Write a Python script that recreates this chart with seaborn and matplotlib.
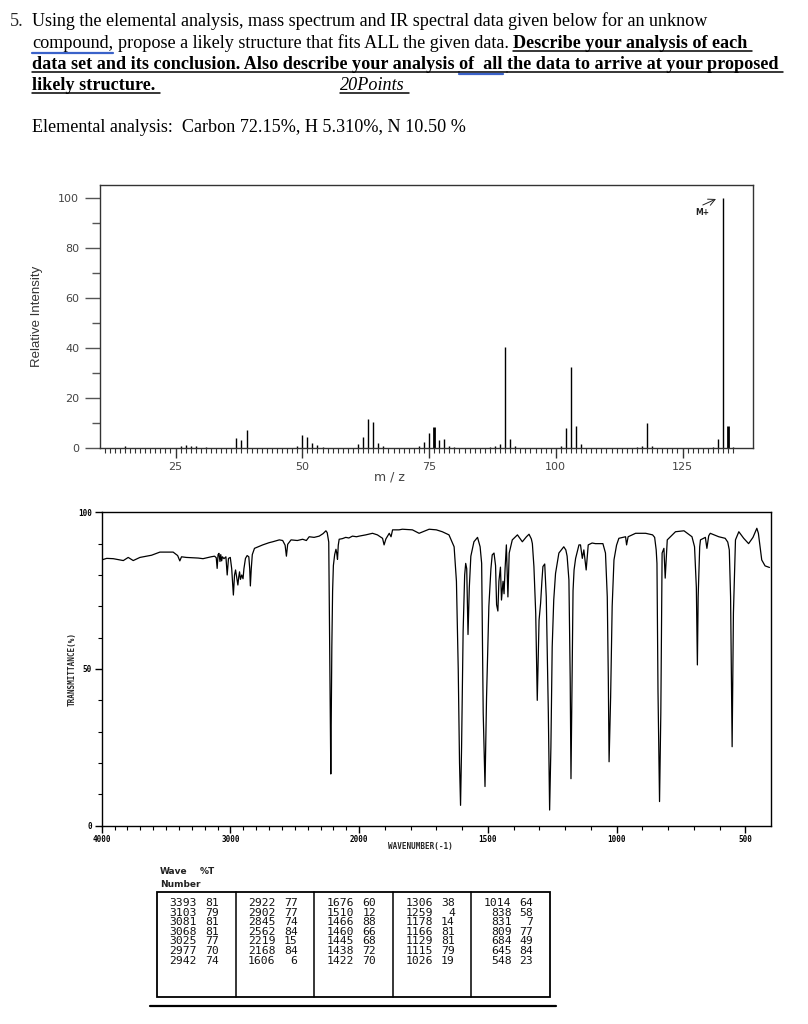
import numpy as np
import matplotlib
matplotlib.use('Agg')
import matplotlib.pyplot as plt
import seaborn as sns

# mass spectrum (m/z, relative intensity)
ms_mz = [15, 26, 27, 28, 29, 31, 37, 38, 39, 49, 50, 51, 52, 53, 54,
         61, 62, 63, 64, 65, 66, 73, 74, 75, 76, 77, 78, 79, 80,
         87, 88, 89, 90, 91, 92, 101, 102, 103, 104, 105,
         116, 117, 118, 119, 131, 132, 133, 134, 135]
ms_int = [1.0, 1.0, 1.2, 1.0, 0.8, 0.6, 4.0, 3.2, 7.3, 1.0, 5.1, 4.3, 2.0, 1.3, 0.6,
          1.6, 4.3, 11.7, 10.3, 2.0, 0.7, 0.7, 2.3, 6.0, 8.4, 3.1, 3.7, 0.9, 0.5,
          0.6, 0.8, 1.5, 40.3, 3.6, 0.8, 0.8, 8.2, 32.3, 8.8, 1.6,
          0.6, 1.0, 9.9, 1.0, 0.5, 3.6, 100.0, 8.9, 0.6]
ms_bold = [76, 134]

# IR spectrum (wavenumber, %T)
ir_wn = [4000, 3961, 3910, 3832, 3794, 3755, 3703, 3613, 3548, 3445, 3410, 3393, 3380,
         3342, 3250, 3213, 3150, 3123, 3110, 3103, 3096, 3089, 3081, 3075, 3068, 3062,
         3050, 3035, 3025, 3015, 3001, 2990, 2977, 2968, 2960, 2950, 2942, 2935, 2929,
         2922, 2912, 2902, 2895, 2883, 2870, 2857, 2850, 2845, 2838, 2830, 2813, 2749,
         2700, 2671, 2620, 2594, 2575, 2565, 2555, 2529, 2480, 2439, 2410, 2388, 2350,
         2310, 2280, 2258, 2248, 2236, 2229, 2224, 2220, 2216, 2212, 2206, 2200, 2190,
         2180, 2174, 2168, 2162, 2155, 2130, 2104, 2080, 2052, 2020, 2000,
         1974, 1948, 1929, 1909, 1903, 1896, 1883, 1876, 1870, 1845, 1832, 1793, 1767,
         1728, 1700, 1677, 1651, 1631, 1622, 1615, 1610, 1606, 1602, 1596, 1590, 1586,
         1582, 1577, 1572, 1566, 1554, 1540, 1530, 1524, 1518, 1511, 1505, 1496, 1488,
         1483, 1476, 1470, 1466, 1461, 1457, 1451, 1447, 1441, 1437, 1433, 1428, 1422,
         1417, 1405, 1385, 1366, 1350, 1340, 1331, 1327, 1321, 1314, 1308, 1301, 1295,
         1290, 1286, 1279, 1273, 1265, 1260, 1255, 1250, 1244, 1237, 1224, 1205, 1197,
         1192, 1185, 1180, 1177, 1173, 1169, 1165, 1159, 1146, 1140, 1133, 1127, 1118,
         1110, 1095, 1082, 1053, 1043, 1036, 1032, 1029, 1023, 1017, 1010, 1000, 991,
         965, 961, 955, 926, 887, 860, 852, 846, 843, 839, 833, 828, 823, 816, 811, 803,
         771, 738, 707, 697, 690, 686, 683, 677, 674, 655, 649, 642, 636, 603, 578, 568,
         562, 557, 551, 546, 538, 525, 506, 487, 470, 455, 449, 436, 423, 406]
ir_t = [84.8, 85.3, 85.2, 84.6, 85.6, 84.6, 85.6, 86.3, 87.3, 87.3, 86.2, 84.5, 85.8,
        85.6, 85.4, 85.2, 85.8, 86.0, 85.5, 82.1, 86.5, 86.9, 84.3, 86.5, 84.5, 85.8,
        85.2, 85.8, 80.0, 85.3, 85.6, 82.0, 73.6, 80.0, 81.6, 79.0, 76.8, 79.5, 81.0,
        78.6, 80.0, 78.8, 82.0, 85.3, 86.2, 85.8, 82.0, 76.5, 82.0, 86.5, 88.5, 89.6,
        90.3, 90.6, 91.2, 91.0, 89.5, 86.0, 89.8, 91.2, 91.0, 91.4, 91.0, 92.2, 92.0,
        92.4, 93.2, 94.1, 93.5, 90.5, 60.0, 35.0, 16.5, 35.0, 57.0, 75.0, 83.0, 86.5,
        88.2, 87.0, 85.0, 89.5, 91.4, 91.6, 92.0, 91.8, 92.4, 92.2, 92.4,
        92.8, 93.3, 92.8, 91.7, 89.6, 91.5, 93.3, 92.2, 94.4, 94.4, 94.6, 94.4, 93.3,
        94.6, 94.4, 93.8, 92.8, 89.0, 78.0, 50.0, 20.0, 6.5, 25.0, 62.0, 80.0, 83.7,
        82.0, 61.0, 76.0, 86.0, 90.6, 92.0, 89.0, 83.7, 36.0, 12.5, 41.0, 70.0, 82.0,
        86.4, 87.0, 83.0, 70.5, 68.5, 78.0, 82.5, 72.0, 78.0, 74.0, 82.0, 89.6, 73.0,
        87.0, 91.2, 92.8, 90.6, 92.2, 93.0, 91.5, 90.0, 82.7, 67.8, 40.0, 65.6, 71.0,
        78.0, 82.7, 83.5, 73.0, 36.0, 5.0, 25.0, 57.0, 72.0, 80.5, 87.0, 89.0, 88.0,
        86.0, 78.4, 46.5, 15.0, 45.0, 75.0, 81.6, 85.3, 89.6, 89.6, 85.3, 88.0, 81.6,
        89.6, 90.2, 90.0, 90.0, 87.0, 73.0, 47.0, 20.4, 41.0, 70.0, 84.8, 89.5, 91.7,
        92.2, 89.6, 92.2, 93.3, 93.3, 92.8, 92.0, 88.0, 83.7, 43.0, 7.7, 36.0, 87.0, 88.5, 79.0, 91.2,
        93.8, 94.1, 92.2, 89.0, 76.0, 51.3, 73.0, 89.0, 91.2, 92.0, 88.5, 92.5, 93.3, 92.2, 91.7, 90.5,
        88.0, 73.0, 25.2, 67.8, 91.2, 93.8, 91.7, 90.0, 92.0, 94.9, 93.3, 84.8, 82.9, 82.4]

# peak table printed under the spectrum
tab_wn = ['3393', '3103', '3081', '3068', '3025', '2977', '2942',
          '2922', '2902', '2845', '2562', '2219', '2168', '1606',
          '1676', '1510', '1466', '1460', '1445', '1438', '1422',
          '1306', '1259', '1178', '1166', '1129', '1115', '1026',
          '1014', '838', '831', '809', '684', '645', '548']
tab_t = ['81', '79', '81', '81', '77', '70', '74',
         '77', '77', '74', '84', '15', '84', '6',
         '60', '12', '88', '66', '68', '72', '70',
         '38', '4', '14', '81', '81', '79', '19',
         '64', '58', '7', '77', '49', '84', '23']

sns.set_theme(style='white')
plt.rcParams['font.family'] = ['DejaVu Sans']

W, H = 808, 1024
fig = plt.figure(figsize=(W / 100, H / 100), dpi=100)

# page layer in pixel coordinates for the question text and the table
page = fig.add_axes([0, 0, 1, 1])
page.set_xlim(0, W)
page.set_ylim(H, 0)
page.axis('off')
renderer = fig.canvas.get_renderer()

SZ = 13.1
SP = 0.25 * SZ * 100 / 72


def write_line(x, y, segs):
    for txt, style in segs:
        kw = dict(fontsize=SZ, family='Liberation Serif', va='baseline', ha='left', color='black')
        if 'b' in style:
            kw['fontweight'] = 'bold'
        if 'i' in style:
            kw['fontstyle'] = 'italic'
        t = page.text(x, y, txt, **kw)
        w = t.get_window_extent(renderer).width
        if 'u' in style:
            page.plot([x, x + w + SP], [y + 2.5, y + 2.5], color='black', lw=1.1)
        if 'w' in style:
            page.plot([x, x + w], [y + 4.5, y + 4.5], color='#3a62c9', lw=1.6)
        x += w + SP


page.text(10, 26, '5.', fontsize=SZ, family='Liberation Serif', va='baseline')
write_line(32, 26, [('Using the elemental analysis, mass spectrum and IR spectral data given below for an unknow', '')])
write_line(32, 48, [('compound,', 'w'),
                    ('propose a likely structure that fits ALL the given data.', ''),
                    ('Describe your analysis of each', 'bu')])
write_line(32, 69, [('data set and its conclusion. Also describe your analysis', 'bu'),
                    ('of  all', 'buw'),
                    ('the data to arrive at your proposed', 'bu')])
write_line(32, 90, [('likely structure.', 'bu')])
write_line(340, 90, [('20Points', 'iu')])
write_line(32, 132, [('Elemental analysis:  Carbon 72.15%, H 5.310%, N 10.50 %', '')])

# ---------------- mass spectrum ----------------
ax1 = fig.add_axes([100 / W, 1 - 448 / H, 653 / W, 263 / H])
ax1.set_facecolor('white')
lws = [2.0 if m in ms_bold else 1.0 for m in ms_mz]
ax1.vlines(ms_mz, 0, ms_int, colors='black', linewidths=lws)
ax1.set_xlim(10.1, 138.9)
ax1.set_ylim(0, 105.2)
ax1.set_xticks([25, 50, 75, 100, 125])
ax1.set_xticks(range(11, 136), minor=True)
ax1.set_yticks([0, 20, 40, 60, 80, 100])
ax1.set_yticks([10, 30, 50, 70, 90], minor=True)
ax1.tick_params(axis='y', which='major', direction='out', length=11, width=1.0,
                color='#555555', labelcolor='#444444', labelsize=8, pad=4, left=True)
ax1.tick_params(axis='y', which='minor', direction='out', length=6, width=1.0,
                color='#555555', left=True)
ax1.tick_params(axis='x', which='major', direction='out', length=7, width=1.0,
                color='#333333', labelcolor='#444444', labelsize=8, pad=3, bottom=True)
ax1.tick_params(axis='x', which='minor', direction='out', length=3.5, width=0.8,
                color='#333333', bottom=True)
for s in ax1.spines.values():
    s.set_color('#333333')
    s.set_linewidth(1.0)
ax1.set_ylabel('Relative Intensity', family='Liberation Sans', fontsize=9.5, color='#333333')
ax1.yaxis.set_label_coords(-0.087, 0.5)
ax1.set_xlabel('m / z', fontsize=9, color='#444444')
ax1.xaxis.set_label_coords(0.444, -0.085)
ax1.text(128.8, 94.3, 'M+', fontsize=5.5, fontweight='bold', ha='center', va='center', color='#222222')
ax1.annotate('', xy=(131.6, 99.6), xytext=(129.0, 97.2),
             arrowprops=dict(arrowstyle='->', lw=0.7, color='#222222', shrinkA=0, shrinkB=0))


# ---------------- IR spectrum ----------------
def fwd(w):
    w = np.asarray(w, dtype=float)
    return np.where(w > 2000, 2000 + (w - 2000) / 2, w)


def inv(u):
    u = np.asarray(u, dtype=float)
    return np.where(u > 2000, 2000 + (u - 2000) * 2, u)


ax2 = fig.add_axes([101.7 / W, 1 - 825.7 / H, 669.3 / W, 313.4 / H])
ax2.set_facecolor('white')
sns.lineplot(x=ir_wn, y=ir_t, ax=ax2, sort=False, estimator=None, color='black', lw=0.9)
ax2.set_xscale('function', functions=(fwd, inv))
ax2.set_xlim(4000, 400)
ax2.set_ylim(0, 100)
ax2.set_xticks([4000, 3000, 2000, 1500, 1000, 500])
ax2.set_xticklabels(['4000', '3000', '2000', '1500', '1000', '500'])
ax2.set_xticks(range(500, 4000, 100), minor=True)
ax2.set_yticks([0, 50, 100])
ax2.set_yticklabels(['0', '50', '100'])
ax2.set_yticks(range(10, 100, 10), minor=True)
ax2.tick_params(which='major', direction='out', length=5, width=1.0, color='black',
                labelsize=5.5, labelcolor='black', pad=2, left=True, bottom=True)
ax2.tick_params(which='minor', direction='out', length=3, width=0.8, color='black',
                left=True, bottom=True)
for lab in ax2.get_xticklabels() + ax2.get_yticklabels():
    lab.set_family('DejaVu Sans Mono')
    lab.set_fontweight('bold')
for s in ax2.spines.values():
    s.set_color('black')
    s.set_linewidth(1.0)
ax2.set_ylabel('TRANSMITTANCE(%)', family='DejaVu Sans Mono', fontsize=5.5, fontweight='bold')
ax2.yaxis.set_label_coords(-0.037, 0.5)
ax2.set_xlabel('WAVENUMBER(-1)', family='DejaVu Sans Mono', fontsize=5.5, fontweight='bold')
ax2.xaxis.set_label_coords(0.476, -0.052)

# ---------------- peak table ----------------
hdr = dict(fontsize=6.5, fontweight='bold', family='DejaVu Sans', va='baseline', color='#222222')
page.text(160, 874, 'Wave', **hdr)
page.text(160, 887, 'Number', **hdr)
page.text(200, 874, '%T', **hdr)
page.add_patch(plt.Rectangle((157, 892), 393, 105, fill=False, lw=1.3, ec='black'))
for g in range(1, 5):
    gx = 157 + 78.6 * g
    page.plot([gx, gx], [892, 997], color='black', lw=1.1)
page.plot([150, 556], [1006, 1006], color='black', lw=1.6)
for k, (wv, pt) in enumerate(zip(tab_wn, tab_t)):
    g, r = divmod(k, 7)
    gx = 157 + 78.6 * g
    ry = 903 + 9.6 * r
    page.text(gx + 40, ry, wv, fontsize=8.2, family='DejaVu Sans Mono', ha='right', va='center', color='#111111')
    page.text(gx + 62, ry, pt, fontsize=8.2, family='DejaVu Sans Mono', ha='right', va='center', color='#111111')

fig.savefig('out.png', dpi=100, facecolor='white')
